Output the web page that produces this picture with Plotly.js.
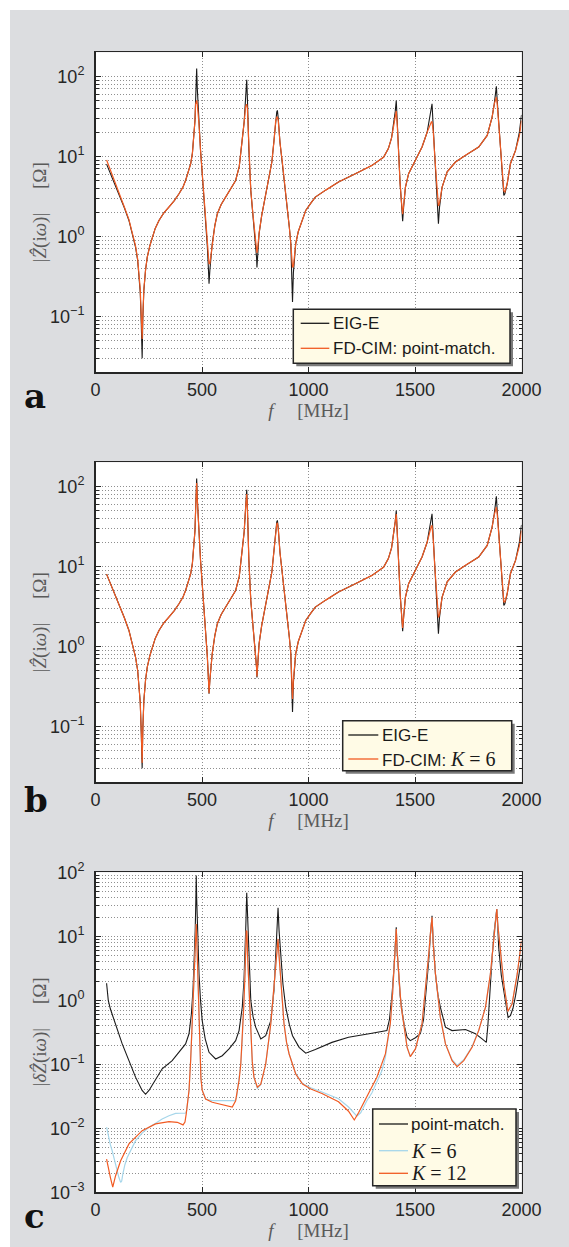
<!DOCTYPE html>
<html><head><meta charset="utf-8">
<script src="https://cdn.plot.ly/plotly-3.0.1.min.js"></script>
<style>html,body{margin:0;padding:0;background:#fff;}#chart{width:569px;height:1247px;}</style>
</head><body><div id="chart"></div>
<script>
// ---------- Panel a / b : |Z(iw)| ----------
const fEig = [52,80,110,135,157,175,188,198,204,210,
 215,219,222,227,235,243,255,266,280,298,
 320,345,370,392,410,423,437,447,455,462,
 467,470,473,475,478,482,486,493,501,510,
 517,525,530,533,537,542,548,560,572,590,
 611,635,658,675,690,698,705,708,710,713,
 720,729,740,752,756,758,761,768,780,791,
 803,815,828,838,846,851,854,858,866,878,
 890,901,910,917,922,925,929,935,940,952,
 964,987,1011,1032,1079,1141,1220,1298,1353,1375,
 1390,1400,1407,1412,1417,1423,1430,1437,1442,1447,
 1455,1470,1502,1533,1557,1572,1577,1580,1586,1593,
 1600,1606,1610,1615,1627,1651,1690,1737,1799,1839,
 1862,1872,1878,1882,1886,1893,1901,1909,1914,1917,
 1922,1933,1948,1972,1990,2000];
const zEig = [8.0,5.3,3.4,2.3,1.58,1.05,0.735,0.5,0.34,0.2,
 0.081,0.03,0.09,0.21,0.38,0.55,0.76,0.98,1.25,1.58,
 1.95,2.33,2.8,3.41,4.1,5.0,6.4,8.1,11.0,17.5,
 28,50,95,125,70,38,25.6,12,6.07,3.0,
 1.44,0.75,0.4,0.256,0.38,0.6,0.81,1.35,1.92,2.5,
 3.1,3.9,5.0,7.5,15.8,27,55,75,91,55,
 12,3.76,1.8,0.81,0.55,0.41,0.55,1.08,1.8,2.56,
 3.6,5.0,8.5,15.8,30,36,37.6,30,15,8.1,
 4.3,2.33,1.3,0.81,0.35,0.151,0.35,0.6,0.81,1.15,
 1.44,2.11,2.6,3.1,3.76,4.78,6.07,7.72,9.8,12.5,
 17,25.6,36,50,25,9.8,4.6,2.5,1.55,2.4,
 4.1,6.07,8.9,13.1,20,34,42,45.5,22,9.8,
 5.0,2.6,1.44,2.3,4.1,6.4,8.5,10.3,13.1,18.3,
 31,45,60,75,50,25.6,13,7.35,4.5,3.25,
 3.4,4.55,8.1,11.9,20,33];
const zPointMatch = [9.0,5.8,3.5,2.35,1.62,1.08,0.76,0.52,0.36,0.22,
 0.1,0.052,0.1,0.22,0.38,0.55,0.76,0.98,1.25,1.58,
 1.95,2.33,2.8,3.41,4.1,5.0,6.4,8.1,11.0,17.5,
 28,45,50,50,45,36,25,12,6.07,3.0,
 1.5,0.8,0.5,0.455,0.455,0.6,0.81,1.35,1.92,2.5,
 3.1,3.9,5.0,7.5,15.8,27,42,45,45,40,
 12,3.76,1.8,0.85,0.7,0.62,0.7,1.1,1.8,2.56,
 3.6,5.0,8.5,15.5,28,31,31,28,15,8.1,
 4.3,2.33,1.3,0.81,0.45,0.41,0.42,0.6,0.81,1.15,
 1.44,2.11,2.6,3.1,3.76,4.78,6.07,7.72,9.8,12.5,
 17,25.6,33,37,24,9.8,4.6,2.6,1.9,2.5,
 4.1,6.07,8.9,13.1,20,26,27,27,20,9.8,
 5.0,2.8,2.4,2.6,4.1,6.4,8.5,10.3,13.1,18.3,
 31,45,52,55,45,25.6,13,7.35,4.6,3.7,
 3.6,4.6,8.1,11.9,18,28];
const zK6 = [8.0,5.3,3.4,2.3,1.58,1.05,0.735,0.5,0.34,0.2,
 0.085,0.035,0.09,0.21,0.38,0.55,0.76,0.98,1.25,1.58,
 1.95,2.33,2.8,3.41,4.1,5.0,6.4,8.1,11.0,17.5,
 28,50,90,110,68,38,25.6,12,6.07,3.0,
 1.44,0.75,0.4,0.26,0.38,0.6,0.81,1.35,1.92,2.5,
 3.1,3.9,5.0,7.5,15.8,27,55,72,80,55,
 12,3.76,1.8,0.81,0.55,0.42,0.55,1.08,1.8,2.56,
 3.6,5.0,8.5,15.8,29,34,35,30,15,8.1,
 4.3,2.33,1.3,0.81,0.38,0.22,0.38,0.6,0.81,1.15,
 1.44,2.11,2.6,3.1,3.76,4.78,6.07,7.72,9.8,12.5,
 17,25.6,36,45,25,9.8,4.6,2.5,1.7,2.4,
 4.1,6.07,8.9,13.1,20,30,32,32,21,9.8,
 5.0,2.7,2.3,2.5,4.1,6.4,8.5,10.3,13.1,18.3,
 31,44,52,55,45,25.6,13,7.35,4.6,3.6,
 3.6,4.6,8.1,11.9,18,28];

// ---------- Panel c : |dZ(iw)| ----------
const fErrPM = [52,60,70,94,125,157,188,219,235,251,
 282,313,360,407,423,439,450,458,464,468,
 471,473,475,478,482,486,493,501,515,533,
 564,595,627,658,674,689,697,702,706,710,
 713,716,722,729,740,752,776,799,823,838,
 846,851,857,862,870,880,893,910,925,956,
 987,1032,1110,1188,1298,1368,1380,1392,1402,1408,
 1412,1416,1423,1430,1439,1450,1463,1478,1502,1525,
 1540,1549,1557,1564,1572,1577,1580,1585,1590,1596,
 1608,1619,1643,1674,1737,1784,1815,1835,1842,1850,
 1862,1872,1878,1884,1889,1893,1905,1917,1930,1937,
 1948,1960,1972,1985,1995,2000];
const dErrPM = [1.85,1.0,0.73,0.43,0.21,0.114,0.063,0.039,0.034,0.039,
 0.059,0.085,0.114,0.174,0.208,0.3,0.6,1.5,4.7,12,
 35,89,40,15.6,6,2.58,1.0,0.48,0.25,0.154,
 0.121,0.136,0.174,0.234,0.336,0.78,2.0,5,15.6,48,
 25,8.6,2.5,0.99,0.55,0.38,0.249,0.28,0.48,1.42,
 5,12,28,12,4.7,1.8,0.78,0.42,0.28,0.184,
 0.149,0.17,0.22,0.264,0.305,0.336,0.5,1.2,3.5,8.6,
 13.8,6,2.58,1.2,0.69,0.4,0.264,0.234,0.26,0.3,
 0.5,0.99,2.2,4.0,10,17.6,21,9,4.5,2.58,
 1.2,0.78,0.38,0.336,0.35,0.30,0.249,0.22,0.4,1.2,
 4.7,12,19.8,26.7,13,6.7,2.5,1.33,0.7,0.54,
 0.575,0.75,1.18,2.3,4,4.5];
const fErrK6 = [52,60,70,78,90,102,110,118,123,128,
 138,149,168,188,220,251,282,313,345,376,
 400,423,428,433,439,447,454,460,464,468,
 471,473,476,480,484,489,495,501,517,548,
 595,642,655,662,666,674,682,689,696,702,
 706,708,711,714,718,723,729,736,744,760,
 776,799,823,835,843,850,855,857,860,865,
 870,877,885,897,909,940,972,1011,1063,1141,
 1188,1215,1227,1245,1274,1298,1321,1345,1361,1384,
 1395,1403,1408,1412,1416,1423,1435,1447,1463,1478,
 1502,1533,1557,1566,1572,1577,1580,1585,1590,1596,
 1619,1643,1674,1698,1729,1768,1799,1831,1854,1866,
 1873,1880,1884,1889,1897,1917,1936,1956,1980,2000];
const dErrK6 = [0.0104,0.0075,0.0055,0.0045,0.003,0.0022,0.0017,0.00143,0.0015,0.0019,
 0.0027,0.0035,0.0048,0.0064,0.0085,0.0104,0.012,0.014,0.0157,0.0171,
 0.0172,0.0172,0.019,0.025,0.039,0.12,0.45,1.5,4.7,10,
 15.6,15.6,8,2.58,0.7,0.128,0.06,0.04,0.0287,0.027,
 0.027,0.027,0.027,0.03,0.038,0.056,0.1,0.234,0.8,2.58,
 7,12.3,12,5,2.58,0.7,0.234,0.11,0.062,0.042,
 0.048,0.1,0.43,1.3,2.58,5.5,9.1,9.1,6,3.8,
 2.58,1.0,0.43,0.22,0.145,0.072,0.05,0.043,0.037,0.029,
 0.0215,0.0175,0.0155,0.0175,0.027,0.036,0.052,0.08,0.13,0.43,
 1.3,3.5,7.5,13,6,2.58,0.8,0.43,0.184,0.132,
 0.174,0.43,2.58,6,10.9,17,19.8,8,4.5,2.58,
 0.54,0.208,0.118,0.096,0.118,0.19,0.34,0.78,2.58,6,
 10.9,20,26.7,15,8.6,1.8,0.67,0.88,2.58,8.5];
const fErrK12 = [52,60,70,81,94,118,157,219,282,345,
 384,411,420,426,433,439,447,454,460,464,
 468,471,473,476,480,484,489,495,501,517,
 548,595,642,658,666,674,682,689,696,702,
 706,708,711,714,718,723,729,736,744,760,
 776,799,823,835,843,850,855,857,860,865,
 870,877,885,897,909,940,972,1011,1063,1141,
 1188,1215,1235,1274,1321,1361,1384,1395,1403,1408,
 1412,1416,1423,1435,1447,1463,1478,1502,1533,1557,
 1566,1572,1577,1580,1585,1590,1596,1619,1643,1674,
 1698,1729,1768,1799,1831,1854,1866,1873,1880,1884,
 1889,1897,1917,1936,1956,1980,2000];
const dErrK12 = [0.0033,0.0024,0.0017,0.0012,0.0018,0.0031,0.0057,0.0092,0.0117,0.0127,
 0.0124,0.0113,0.0125,0.0168,0.025,0.039,0.12,0.45,1.5,4.7,
 10,15.6,15.6,8,2.58,0.7,0.128,0.06,0.039,0.0287,
 0.0255,0.0234,0.0215,0.027,0.038,0.056,0.1,0.234,0.8,2.58,
 7,12.3,12,5,2.58,0.7,0.234,0.11,0.063,0.044,
 0.049,0.101,0.43,1.3,2.58,5.5,9.1,9.1,6,3.8,
 2.58,1.0,0.43,0.22,0.145,0.0706,0.049,0.041,0.035,0.026,
 0.0185,0.0135,0.0175,0.0305,0.0627,0.145,0.43,1.3,3.5,7.5,
 13,6,2.58,0.8,0.43,0.184,0.132,0.174,0.43,2.58,
 6,10.9,17,19.8,8,4.5,2.58,0.54,0.208,0.114,
 0.092,0.114,0.184,0.336,0.78,2.58,6,10.9,20,26.7,
 15,8.6,1.8,0.67,0.88,2.58,8.5];

const xTicks = [0,500,1000,1500,2000];
const yTicksAB = [0.1,1,10,100];
const yTextAB = ['10<sup>\u22121</sup>','10<sup>0</sup>','10<sup>1</sup>','10<sup>2</sup>'];
const yTicksC = [0.001,0.01,0.1,1,10,100];
const yTextC = ['10<sup>\u22123</sup>','10<sup>\u22122</sup>','10<sup>\u22121</sup>','10<sup>0</sup>','10<sup>1</sup>','10<sup>2</sup>'];

// legend labels
const KS = '<span style="font-family:\'Liberation Serif\',serif;font-size:20px">';
const legA = ['EIG-E', 'FD-CIM: point-match.'];
const legB = ['EIG-E', 'FD-CIM: ' + KS + '<i>K</i> = 6</span>'];
const legC = ['point-match.', KS + '<i>K</i> = 6</span>', KS + '<i>K</i> = 12</span>'];

// ---------- layout helpers ----------
const W = 569, H = 1247;
const fx = p => p / W;
const fy = p => 1 - p / H;
const BLACK = '#1a1a1a', ORANGE = '#f15a22', BLUE = '#a6d6ea';
const FRAME = '#262626', GRID = '#8f8f8f';
const tickFont = {family:'"Liberation Sans", Arial, sans-serif', size:18, color:'#262626'};
const titleFont = {family:'"Liberation Serif", "DejaVu Serif", serif', size:19, color:'#5a5a5a'};
const NB = '\u00a0';

function xAxis(top, bottom, anchor){
  return {domain:[fx(95.5), fx(521.5)], anchor, range:[0,2000], tickmode:'array', tickvals:xTicks,
    ticks:'inside', ticklen:5, tickwidth:1, tickcolor:FRAME,
    showline:true, linecolor:FRAME, linewidth:1.5, mirror:'ticks',
    showgrid:true, gridcolor:GRID, griddash:'1px,2px', gridwidth:1, zeroline:false,
    tickfont:tickFont, ticklabelstandoff:1,
    title:{text:'<i>f</i>'+NB.repeat(5)+'[MHz]', font:titleFont, standoff:0},
    automargin:false, fixedrange:true};
}
function yAxis(top, bottom, anchor, range, tv, tt){
  return {type:'log', domain:[fy(bottom), fy(top)], anchor, range,
    tickmode:'array', tickvals:tv, ticktext:tt,
    ticks:'inside', ticklen:5, tickwidth:1, tickcolor:FRAME,
    showline:true, linecolor:FRAME, linewidth:1.5, mirror:'ticks',
    showgrid:true, gridcolor:GRID, griddash:'1px,2px', gridwidth:1, zeroline:false,
    minor:{dtick:'D1', ticks:'inside', ticklen:3, tickcolor:FRAME, showgrid:true, gridcolor:GRID, griddash:'1px,2px', gridwidth:1},
    tickfont:tickFont, ticklabelstandoff:6,
    automargin:false, fixedrange:true};
}

const panels = {a:[52.3,372.3], b:[462.3,782.3], c:[872.3,1192.3]};
const zTitle = '|<i>\u1E90</i>(i<i>\u03C9</i>)|'+NB.repeat(5)+'[\u03A9]';
const dzTitle = '|<i>\u03B4\u1E90</i>(i<i>\u03C9</i>)|'+NB.repeat(5)+'[\u03A9]';

const traces = [
  {x:fEig, y:zEig, name:legA[0], mode:'lines', line:{color:BLACK, width:1.1}, xaxis:'x', yaxis:'y'},
  {x:fEig, y:zPointMatch, name:legA[1], mode:'lines', line:{color:ORANGE, width:1.2}, xaxis:'x', yaxis:'y'},
  {x:fEig, y:zEig, name:legB[0], mode:'lines', line:{color:BLACK, width:1.1}, xaxis:'x2', yaxis:'y2'},
  {x:fEig, y:zK6, name:legB[1], mode:'lines', line:{color:ORANGE, width:1.2}, xaxis:'x2', yaxis:'y2'},
  {x:fErrPM, y:dErrPM, name:legC[0], mode:'lines', line:{color:BLACK, width:1.1}, xaxis:'x3', yaxis:'y3'},
  {x:fErrK6, y:dErrK6, name:legC[1], mode:'lines', line:{color:BLUE, width:1.2}, xaxis:'x3', yaxis:'y3'},
  {x:fErrK12, y:dErrK12, name:legC[2], mode:'lines', line:{color:ORANGE, width:1.2}, xaxis:'x3', yaxis:'y3'}
];

const shapes = [
  {type:'rect', xref:'paper', yref:'paper', x0:0, x1:fx(10), y0:0, y1:1, fillcolor:'#ffffff', line:{width:0}, layer:'below'},
  {type:'rect', xref:'paper', yref:'paper', x0:0, x1:1, y0:fy(10), y1:1, fillcolor:'#ffffff', line:{width:0}, layer:'below'}
];
const annotations = [];
const legFont = {family:'"Liberation Sans", Arial, sans-serif', size:17, color:'#1a1a1a'};

// manual legend boxes: box [left, top, right, bottom], sample x [x0,x1], text x, row centers, colors, labels
function addLegend(box, sx, tx, rows, colors, labels){
  shapes.push({type:'rect', xref:'paper', yref:'paper', x0:fx(box[0]+3), x1:fx(box[2]+3), y0:fy(box[3]+3), y1:fy(box[1]+3), fillcolor:'#7a7a7a', line:{width:0}, layer:'above'});
  shapes.push({type:'rect', xref:'paper', yref:'paper', x0:fx(box[0]), x1:fx(box[2]), y0:fy(box[3]), y1:fy(box[1]), fillcolor:'#fffbe6', line:{color:FRAME, width:1.5}, layer:'above'});
  rows.forEach((r,i)=>{
    shapes.push({type:'line', xref:'paper', yref:'paper', x0:fx(sx[0]), x1:fx(sx[1]), y0:fy(r), y1:fy(r), line:{color:colors[i], width:1.3}, layer:'above'});
    annotations.push({text:labels[i], xref:'paper', yref:'paper', x:fx(tx), y:fy(r), xanchor:'left', yanchor:'middle', showarrow:false, font:legFont, borderpad:0});
  });
}
addLegend([293.3,309.3,510,363.3],[300.7,329.3],331.5,[323.3,348.3],[BLACK,ORANGE],legA);
addLegend([342.7,720.7,511.7,770.7],[348.3,378.3],380.5,[735,759],[BLACK,ORANGE],legB);
addLegend([372.7,1109,516,1185.7],[379,408],410,[1124,1150.7,1173.3],[BLACK,BLUE,ORANGE],legC);

// y-axis titles
[[panels.a,zTitle],[panels.b,zTitle],[panels.c,dzTitle]].forEach(p=>{
  annotations.push({text:p[1], xref:'paper', yref:'paper', x:fx(40), y:fy((p[0][0]+p[0][1])/2), xanchor:'center', yanchor:'middle', textangle:-90, showarrow:false, font:titleFont});
});

// panel letters
const letterFont = {family:'"DejaVu Serif", serif', size:34, color:'#111'};
[['a',418],['b',822],['c',1238]].forEach(l=>{
  annotations.push({text:'<b>'+l[0]+'</b>', xref:'paper', yref:'paper', x:fx(22), y:fy(l[1]), xanchor:'left', yanchor:'bottom', showarrow:false, font:letterFont});
});

const layout = {
  width:W, height:H, margin:{l:0,r:0,t:0,b:0},
  paper_bgcolor:'#dcdde0', plot_bgcolor:'#ffffff', showlegend:false,
  xaxis:xAxis(...panels.a,'y'), yaxis:yAxis(...panels.a,'x',[Math.log10(0.02),Math.log10(200)],yTicksAB,yTextAB),
  xaxis2:xAxis(...panels.b,'y2'), yaxis2:yAxis(...panels.b,'x2',[Math.log10(0.02),Math.log10(200)],yTicksAB,yTextAB),
  xaxis3:xAxis(...panels.c,'y3'), yaxis3:yAxis(...panels.c,'x3',[-3,2],yTicksC,yTextC),
  shapes, annotations
};
Plotly.newPlot('chart', traces, layout, {displayModeBar:false, staticPlot:true});
</script></body></html>
